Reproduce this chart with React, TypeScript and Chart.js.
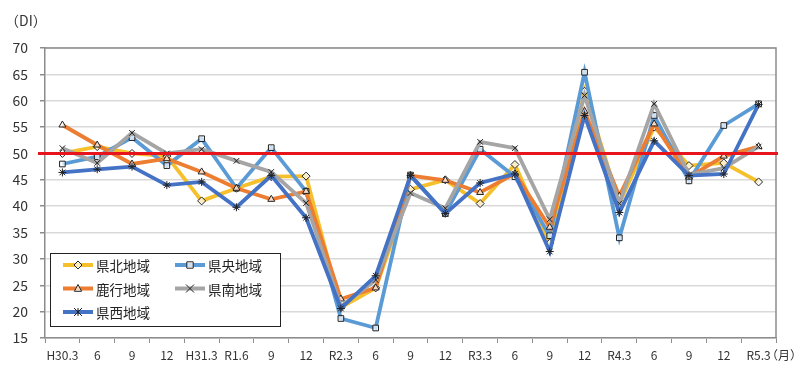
import React, { useEffect, useRef } from "react";
import { Chart, registerables } from "chart.js";

Chart.register(...registerables);

const categories = ["H30.3", "6", "9", "12", "H31.3", "R1.6", "9", "12", "R2.3", "6", "9", "12", "R3.3", "6", "9", "12", "R4.3", "6", "9", "12", "R5.3"];

const kenpoku = [50, 51.3, 50, 49.5, 41, 43.4, 45.6, 45.7, 20.8, 24.5, 43.2, 45, 40.5, 47.9, 33, 61.8, 40.5, 55, 47.7, 48.2, 44.6];
const kenou = [48, 49.4, 53, 47.7, 52.8, 43.4, 51.1, 42.8, 18.7, 16.9, 45.9, 38.6, 50.8, 45.6, 34.4, 65.4, 34, 57.2, 44.8, 55.3, 59.4];
const rokkou = [55.4, 51.6, 48, 49, 46.5, 43.4, 41.3, 42.8, 22.4, 24.5, 45.8, 44.9, 42.6, 46.2, 36, 58, 41.9, 55.6, 45.5, 49.5, 51.3];
const kennan = [51, 48.2, 53.9, 50, 50.8, 48.6, 46.5, 40.6, 21, 26, 42.5, 39.6, 52.2, 51, 37.5, 61, 40.5, 59.4, 46, 47.2, 51.3];
const kensei = [46.4, 47, 47.5, 44, 44.6, 39.8, 45.8, 37.8, 20.6, 26.8, 45.8, 38.6, 44.4, 46.1, 31.4, 57.2, 38.8, 52.4, 45.8, 46.1, 59.3];

const seriesNames = ["県北地域", "県央地域", "鹿行地域", "県南地域", "県西地域"];
const seriesColors = ["#F5C02B", "#5B9BD5", "#ED7D31", "#A5A5A5", "#4472C4"];
const seriesMarkers = ["rectRot", "rect", "triangle", "crossRot", "star"];
const yTicks = [15, 20, 25, 30, 35, 40, 45, 50, 55, 60, 65, 70];
const referenceValue = 50;

const FONT = "'Noto Sans CJK JP', 'Liberation Sans', sans-serif";

function drawMarker(ctx: CanvasRenderingContext2D, style: string, x: number, y: number, r: number) {
  ctx.save();
  ctx.strokeStyle = "#222";
  ctx.fillStyle = "rgba(255,255,255,0.7)";
  ctx.lineWidth = 1;
  ctx.beginPath();
  if (style === "rectRot") {
    ctx.moveTo(x, y - r);
    ctx.lineTo(x + r, y);
    ctx.lineTo(x, y + r);
    ctx.lineTo(x - r, y);
    ctx.closePath();
    ctx.fill();
    ctx.stroke();
  } else if (style === "rect") {
    ctx.rect(x - r * 0.8, y - r * 0.8, r * 1.6, r * 1.6);
    ctx.fill();
    ctx.stroke();
  } else if (style === "triangle") {
    ctx.moveTo(x, y - r);
    ctx.lineTo(x + r * 0.9, y + r * 0.7);
    ctx.lineTo(x - r * 0.9, y + r * 0.7);
    ctx.closePath();
    ctx.fill();
    ctx.stroke();
  } else if (style === "crossRot") {
    ctx.moveTo(x - r, y - r);
    ctx.lineTo(x + r, y + r);
    ctx.moveTo(x + r, y - r);
    ctx.lineTo(x - r, y + r);
    ctx.stroke();
  } else {
    ctx.moveTo(x - r, y - r);
    ctx.lineTo(x + r, y + r);
    ctx.moveTo(x + r, y - r);
    ctx.lineTo(x - r, y + r);
    ctx.moveTo(x, y - r);
    ctx.lineTo(x, y + r);
    ctx.stroke();
  }
  ctx.restore();
}

const decorPlugin = {
  id: "decor",
  afterDatasetsDraw(chart: any) {
    const { ctx, chartArea } = chart;
    const y = chart.scales.y.getPixelForValue(referenceValue);
    ctx.save();
    ctx.strokeStyle = "#8c8c8c";
    ctx.lineWidth = 1.5;
    ctx.beginPath();
    ctx.moveTo(chartArea.left, chartArea.top);
    ctx.lineTo(chartArea.right, chartArea.top);
    ctx.lineTo(chartArea.right, chartArea.bottom);
    ctx.stroke();
    ctx.strokeStyle = "#E8141C";
    ctx.lineWidth = 3;
    ctx.beginPath();
    ctx.moveTo(chartArea.left - 7, y);
    ctx.lineTo(chartArea.right + 2, y);
    ctx.stroke();
    ctx.restore();
  },
  afterDraw(chart: any) {
    const { ctx, chartArea } = chart;
    ctx.save();
    ctx.fillStyle = "#333";
    ctx.font = `14px ${FONT}`;
    ctx.textBaseline = "middle";
    ctx.textAlign = "left";
    ctx.fillText("（DI）", 5, 21);
    ctx.font = `12px ${FONT}`;
    ctx.fillText("（月）", 766, 355);

    const bx = chartArea.left + 5;
    const by = 253;
    const bw = 230;
    const bh = 73;
    ctx.fillStyle = "#fff";
    ctx.fillRect(bx, by, bw, bh);
    ctx.strokeStyle = "#222";
    ctx.lineWidth = 1;
    ctx.strokeRect(bx + 0.5, by + 0.5, bw, bh);
    const cols = [bx + 13, bx + 125];
    const rows = [by + 12, by + 35.5, by + 59];
    const order = [[0, 0], [1, 0], [0, 1], [1, 1], [0, 2]];
    order.forEach(([c, r], i) => {
      const lx = cols[c];
      const ly = rows[r];
      ctx.strokeStyle = seriesColors[i];
      ctx.lineWidth = 4;
      ctx.beginPath();
      ctx.moveTo(lx, ly);
      ctx.lineTo(lx + 30, ly);
      ctx.stroke();
      drawMarker(ctx, seriesMarkers[i], lx + 15, ly, 4);
      ctx.fillStyle = "#222";
      ctx.font = `13.5px ${FONT}`;
      ctx.textAlign = "left";
      ctx.textBaseline = "middle";
      ctx.fillText(seriesNames[i], lx + 33, ly + 1);
    });
    ctx.restore();
  },
};

export default function App() {
  const canvasRef = useRef<HTMLCanvasElement | null>(null);

  useEffect(() => {
    const seriesData = [kenpoku, kenou, rokkou, kennan, kensei];
    const chart = new Chart(canvasRef.current as HTMLCanvasElement, {
      type: "line",
      data: {
        labels: categories,
        datasets: seriesData.map((d, i) => ({
          label: seriesNames[i],
          data: d,
          borderColor: seriesColors[i],
          backgroundColor: seriesColors[i],
          borderWidth: 3.8,
          pointStyle: seriesMarkers[i] as any,
          pointRadius: 4,
          pointBorderColor: "#222",
          pointBorderWidth: 1,
          pointBackgroundColor: "rgba(255,255,255,0.7)",
          tension: 0,
          order: 5 - i,
        })),
      },
      options: {
        animation: false,
        responsive: true,
        maintainAspectRatio: false,
        layout: { padding: { top: 48, right: 24, left: 0, bottom: 0 } },
        plugins: { legend: { display: false }, tooltip: { enabled: false } },
        scales: {
          x: {
            offset: true,
            afterFit: (s: any) => {
              s.height = 29;
            },
            grid: {
              offset: true,
              drawOnChartArea: false,
              drawTicks: true,
              tickLength: 5,
              tickColor: "#8c8c8c",
            },
            border: { color: "#8c8c8c", width: 1.5 },
            ticks: {
              color: "#333",
              font: { size: 12, family: FONT },
              padding: 5,
              maxRotation: 0,
              autoSkip: false,
            },
          },
          y: {
            min: 15,
            max: 70,
            afterFit: (s: any) => {
              s.width = 45;
            },
            afterBuildTicks: (s: any) => {
              s.ticks = yTicks.map((v) => ({ value: v }));
            },
            grid: {
              color: "#d9d9d9",
              lineWidth: 1.5,
              tickLength: 5,
              tickColor: "#8c8c8c",
            },
            border: { color: "#8c8c8c", width: 1.5 },
            ticks: {
              color: "#333",
              font: { size: 14, family: FONT },
              padding: 12,
            },
          },
        },
      },
      plugins: [decorPlugin],
    });
    return () => chart.destroy();
  }, []);

  return (
    <div style={{ position: "fixed", left: 0, top: 0, width: 800, height: 367, background: "#fff" }}>
      <canvas ref={canvasRef} />
    </div>
  );
}
